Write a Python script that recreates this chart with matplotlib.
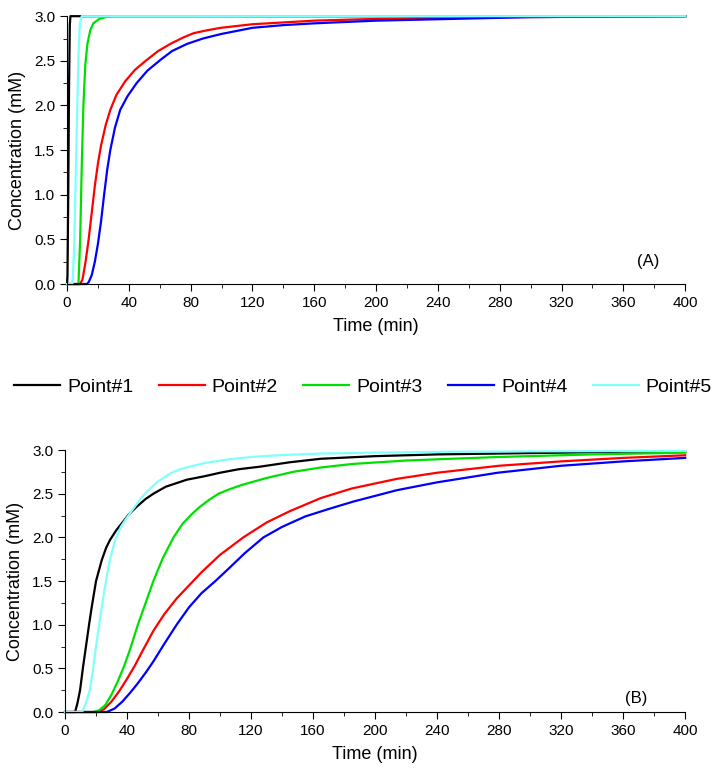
import matplotlib.pyplot as plt
from matplotlib.ticker import MultipleLocator

plt.rcParams['font.family'] = ['Liberation Sans', 'DejaVu Sans']

labels = ["Point#1", "Point#2", "Point#3", "Point#4", "Point#5"]
colors = ["#000000", "#ff0000", "#00e000", "#0000ff", "#80ffff"]

# panel (A)
a_t1 = [0, 0.3, 0.8, 1.3, 1.8, 2.2, 400]
a_c1 = [0, 0.1, 1.0, 2.2, 2.9, 3.0, 3.0]
a_t2 = [0, 8.4, 10, 12, 14, 16, 18, 20, 22, 25, 28, 32, 37.6, 44, 51.6, 59, 66.9, 75, 82, 90, 99.6,
        120, 140, 160, 200, 250, 300, 400]
a_c2 = [0, 0, 0.05, 0.25, 0.5, 0.8, 1.1, 1.35, 1.55, 1.78, 1.95, 2.12, 2.27, 2.4, 2.51, 2.61, 2.69, 2.76, 2.81,
        2.84, 2.87, 2.91, 2.93, 2.95, 2.97, 2.985, 2.99, 3.0]
a_t3 = [0, 7.4, 8.5, 9.5, 10.6, 11.8, 13.2, 15, 17, 21, 25, 30, 400]
a_c3 = [0, 0, 0.5, 1.3, 2.0, 2.45, 2.69, 2.84, 2.92, 2.97, 2.99, 3.0, 3.0]
a_t4 = [0, 12.8, 14, 16, 18, 20, 22, 24, 26, 28, 31, 34.4, 39, 45, 52, 60.4, 68, 77.7, 88, 99.6, 120, 140, 160,
        200, 250, 300, 400]
a_c4 = [0, 0, 0.02, 0.1, 0.25, 0.45, 0.7, 1.0, 1.28, 1.5, 1.75, 1.95, 2.1, 2.25, 2.39, 2.51, 2.61, 2.69, 2.75,
        2.8, 2.87, 2.9, 2.92, 2.95, 2.97, 2.99, 3.0]
a_t5 = [0, 3.5, 4.5, 5.5, 6.5, 7.5, 8.3, 9.5, 400]
a_c5 = [0, 0, 0.35, 1.1, 1.9, 2.6, 2.92, 3.0, 3.0]

# panel (B)
b_t1 = [0, 6.5, 8, 9.7, 11.5, 13.5, 15.5, 17.2, 20, 23.7, 26.5, 29, 33, 36.6, 41, 46.2, 52, 57, 65, 78.5, 90,
        100, 112, 126, 145, 165, 200, 240, 280, 320, 360, 400]
b_c1 = [0, 0, 0.1, 0.25, 0.5, 0.75, 1.0, 1.2, 1.5, 1.74, 1.88, 1.97, 2.08, 2.16, 2.26, 2.35, 2.44, 2.5, 2.58,
        2.66, 2.7, 2.74, 2.78, 2.81, 2.86, 2.9, 2.93, 2.95, 2.96, 2.97, 2.98, 2.98]
b_t2 = [0, 20.5, 25, 30, 35, 40, 45, 50, 57, 64, 72, 80, 88, 100, 115, 130, 145, 165, 185, 214, 240, 280,
        320, 360, 400]
b_c2 = [0, 0, 0.03, 0.12, 0.24, 0.38, 0.53, 0.7, 0.93, 1.12, 1.3, 1.45, 1.6, 1.8, 2.0, 2.17, 2.3, 2.45, 2.56,
        2.67, 2.74, 2.82, 2.87, 2.91, 2.94]
b_t3 = [0, 18, 22, 26, 30, 34, 38, 42, 47, 52, 57, 63, 70, 76, 82, 87, 93, 99, 106, 114, 122, 130, 147, 165,
        185, 220, 279, 340, 400]
b_c3 = [0, 0, 0.02, 0.08, 0.2, 0.35, 0.52, 0.72, 1.0, 1.25, 1.5, 1.76, 2.0, 2.16, 2.27, 2.35, 2.43, 2.5, 2.55,
        2.6, 2.64, 2.68, 2.75, 2.8, 2.84, 2.88, 2.92, 2.95, 2.97]
b_t4 = [0, 27, 32, 37, 42, 47, 52, 57, 64, 72, 80, 88, 97, 106, 116, 128, 140, 155, 171, 186, 214, 240, 279,
        320, 360, 400]
b_c4 = [0, 0, 0.04, 0.12, 0.22, 0.33, 0.45, 0.58, 0.78, 1.0, 1.2, 1.36, 1.5, 1.65, 1.82, 2.0, 2.12, 2.24, 2.33,
        2.41, 2.54, 2.63, 2.74, 2.82, 2.87, 2.91]
b_t5 = [0, 11, 13, 16, 18, 20, 22, 23.7, 26.5, 29, 32.3, 36, 40, 45, 49, 53.8, 60, 67.7, 74, 80.6, 90, 104,
        120, 137, 165, 200, 250, 300, 400]
b_c5 = [0, 0, 0.08, 0.25, 0.48, 0.75, 1.0, 1.2, 1.51, 1.75, 1.97, 2.12, 2.23, 2.35, 2.45, 2.54, 2.64, 2.73,
        2.78, 2.81, 2.85, 2.89, 2.92, 2.94, 2.96, 2.97, 2.98, 2.985, 2.99]

panel_a = [(a_t1, a_c1), (a_t2, a_c2), (a_t3, a_c3), (a_t4, a_c4), (a_t5, a_c5)]
panel_b = [(b_t1, b_c1), (b_t2, b_c2), (b_t3, b_c3), (b_t4, b_c4), (b_t5, b_c5)]

fig = plt.figure(figsize=(7.13, 7.71), dpi=100)
ax1 = fig.add_axes([0.094, 0.6316, 0.867, 0.3474])
ax2 = fig.add_axes([0.0912, 0.0765, 0.8698, 0.3398])


def style_axis(ax, tag, tag_xy):
    ax.set_xlim(0, 400)
    ax.set_ylim(0, 3.0)
    ax.xaxis.set_major_locator(MultipleLocator(40))
    ax.xaxis.set_minor_locator(MultipleLocator(20))
    ax.yaxis.set_major_locator(MultipleLocator(0.5))
    ax.yaxis.set_minor_locator(MultipleLocator(0.25))
    ax.yaxis.set_major_formatter(plt.FormatStrFormatter('%.1f'))
    ax.spines['top'].set_visible(False)
    ax.spines['right'].set_visible(False)
    ax.tick_params(which='major', direction='out', length=5, labelsize=11)
    ax.tick_params(which='minor', direction='out', length=3)
    ax.set_xlabel("Time (min)", fontsize=13, labelpad=6)
    ax.set_ylabel("Concentration (mM)", fontsize=13, labelpad=6)
    ax.text(tag_xy[0], tag_xy[1], tag, fontsize=12)


lines = []
for (t, c), col, lab in zip(panel_a, colors, labels):
    ln, = ax1.plot(t, c, color=col, lw=1.6, label=lab, clip_on=False)
    lines.append(ln)
for (t, c), col in zip(panel_b, colors):
    ax2.plot(t, c, color=col, lw=1.6, clip_on=False)

style_axis(ax1, "(A)", (369, 0.2))
style_axis(ax2, "(B)", (361, 0.1))

fig.legend(lines, labels, loc='center left', bbox_to_anchor=(14 / 713, 0.498), ncol=5,
           frameon=False, fontsize=14, handlelength=2.37, columnspacing=1.3,
           handletextpad=0.36, borderpad=0, borderaxespad=0)

fig.savefig("out.png", dpi=100)
